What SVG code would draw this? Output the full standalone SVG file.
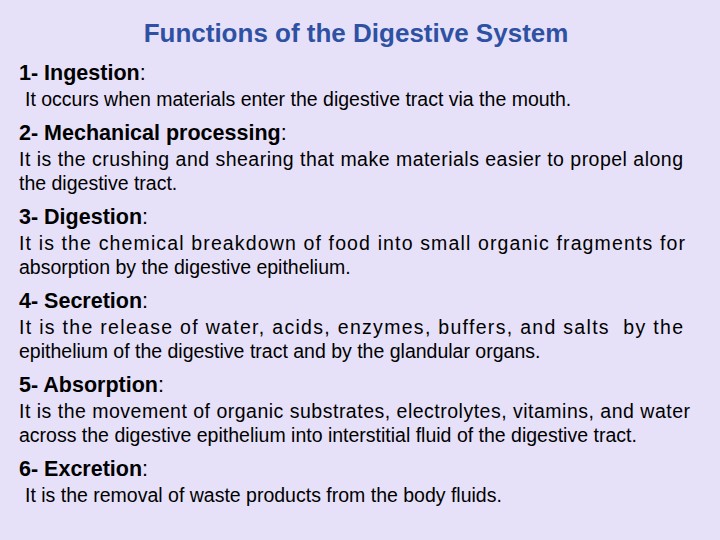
<svg xmlns="http://www.w3.org/2000/svg" width="720" height="540" viewBox="0 0 720 540">
<style>
text{font-family:"Liberation Sans",Arial,sans-serif;fill:#000}
.t{font-size:26px;font-weight:bold;fill:#2F51A3;text-anchor:middle}
.h{font-size:21.5px;font-weight:bold}
.h tspan{font-weight:normal}
.b{font-size:19.5px}
</style>
<rect width="720" height="540" fill="#E6E1F8"/>
<text class="t" x="356" y="42">Functions of the Digestive System</text>
<text class="h" x="19" y="80">1- Ingestion<tspan>:</tspan></text>
<text class="b" x="25" y="106">It occurs when materials enter the digestive tract via the mouth.</text>
<text class="h" x="19" y="140">2- Mechanical processing<tspan>:</tspan></text>
<text class="b" x="19" y="166" textLength="664" lengthAdjust="spacing">It is the crushing and shearing that make materials easier to propel along</text>
<text class="b" x="19" y="190">the digestive tract.</text>
<text class="h" x="19" y="224">3- Digestion<tspan>:</tspan></text>
<text class="b" x="19" y="250" textLength="666" lengthAdjust="spacing">It is the chemical breakdown of food into small organic fragments for</text>
<text class="b" x="19" y="274">absorption by the digestive epithelium.</text>
<text class="h" x="19" y="308">4- Secretion<tspan>:</tspan></text>
<text class="b" x="19" y="334" textLength="664" lengthAdjust="spacing">It is the release of water, acids, enzymes, buffers, and salts &#160;by the</text>
<text class="b" x="19" y="358">epithelium of the digestive tract and by the glandular organs.</text>
<text class="h" x="19" y="392">5- Absorption<tspan>:</tspan></text>
<text class="b" x="19" y="418" textLength="671" lengthAdjust="spacing">It is the movement of organic substrates, electrolytes, vitamins, and water</text>
<text class="b" x="19" y="442">across the digestive epithelium into interstitial fluid of the digestive tract.</text>
<text class="h" x="19" y="476">6- Excretion<tspan>:</tspan></text>
<text class="b" x="25" y="502">It is the removal of waste products from the body fluids.</text>
</svg>
